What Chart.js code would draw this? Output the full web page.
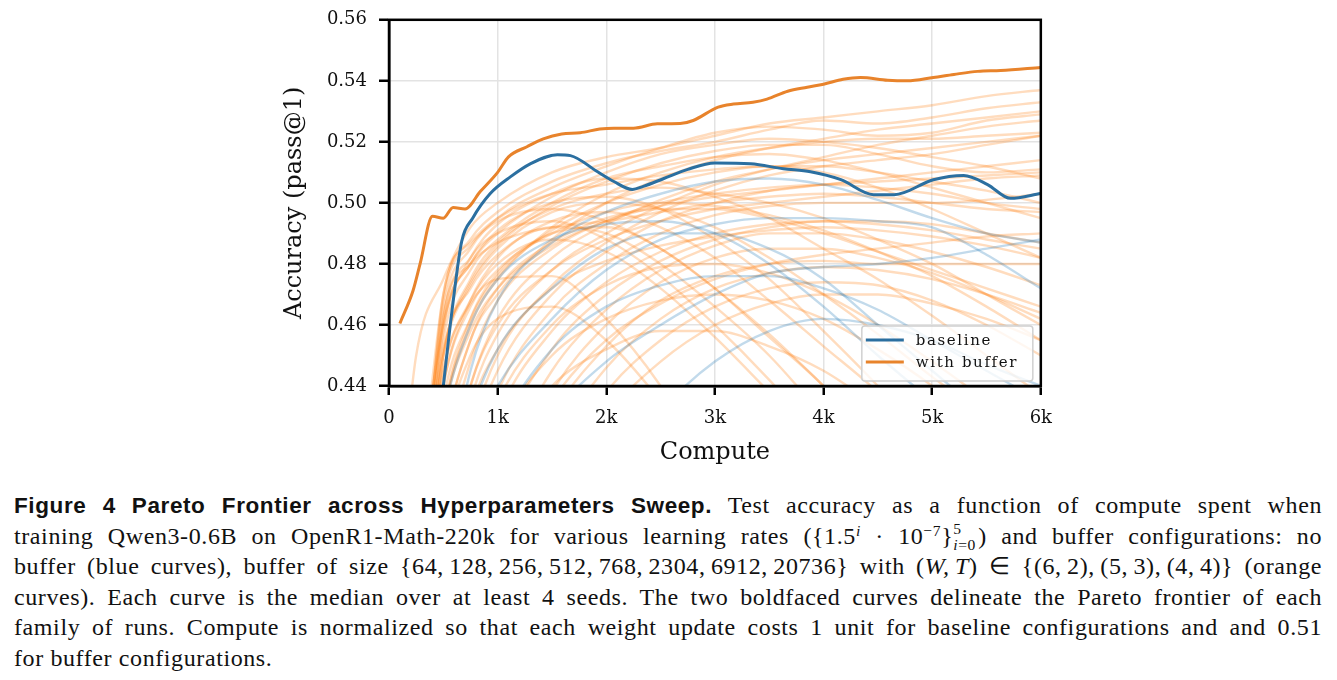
<!DOCTYPE html>
<html>
<head>
<meta charset="utf-8">
<script src="https://cdn.jsdelivr.net/npm/chart.js@4.4.1/dist/chart.umd.min.js"></script>
<style>
  body { margin: 0; background: #fff; width: 1337px; height: 680px; overflow: hidden; position: relative; }
  #wrap { position: absolute; left: 280px; top: -3px; width: 785px; height: 473px; }
  #caption { position: absolute; left: 14px; top: 490px; width: 1308px; font-family: "Liberation Serif", serif; font-size: 24px; color: #111; }
  #caption .ln { height: 30.5px; line-height: 30.5px; white-space: nowrap; }
  #caption .ln > span { letter-spacing: 0.6px; }
  #caption b { font-family: "Liberation Sans", Arial, sans-serif; font-weight: bold; font-size: 22.5px; }
  .gap { display: inline-block; width: 16px; }
  .sp { position: relative; top: -0.5em; font-size: 0.65em; line-height: 0; }
  .ss { display: inline-block; position: relative; width: 1.6em; height: 0; font-size: 0.65em; }
  .ss .u { position: absolute; left: 0; bottom: 0.45em; line-height: 1; }
  .ss .d { position: absolute; left: 0; top: -0.4em; line-height: 1; }
</style>
</head>
<body>
<div id="wrap"><canvas id="chart" width="785" height="473"></canvas></div>
<div id="caption">
  <div class="ln"><span><b>Figure 4</b><span class="gap"></span><b>Pareto Frontier across Hyperparameters Sweep.</b> Test accuracy as a function of compute spent when</span></div>
  <div class="ln"><span>training Qwen3-0.6B on OpenR1-Math-220k for various learning rates ({1.5<span class="sp"><i>i</i></span> · 10<span class="sp">−7</span>}<span class="ss"><span class="u">5</span><span class="d"><i>i</i>=0</span></span>) and buffer configurations: no</span></div>
  <div class="ln"><span>buffer (blue curves), buffer of size {64,&thinsp;128,&thinsp;256,&thinsp;512,&thinsp;768,&thinsp;2304,&thinsp;6912,&thinsp;20736} with (<i>W,&thinsp;T</i>) ∈ {(6,&thinsp;2),&thinsp;(5,&thinsp;3),&thinsp;(4,&thinsp;4)} (orange</span></div>
  <div class="ln"><span>curves). Each curve is the median over at least 4 seeds. The two boldfaced curves delineate the Pareto frontier of each</span></div>
  <div class="ln"><span>family of runs. Compute is normalized so that each weight update costs 1 unit for baseline configurations and and 0.51</span></div>
  <div class="ln"><span class="last">for buffer configurations.</span></div>
</div>
<script>
// legend names
const seriesNames = ['baseline', 'with buffer'];

// pareto frontiers (bold curves)
const frontierBufX = [100, 221, 286, 400, 500, 590, 700, 840, 1000, 1100, 1270, 1420, 1590, 1760, 1940, 2070, 2250, 2470, 2680, 2800, 3030, 3170, 3350, 3480, 3670, 3850, 4000, 4180, 4340, 4590, 4770, 5010, 5200, 5420, 5630, 6000];
const frontierBufY = [0.4605, 0.4712, 0.480, 0.4956, 0.495, 0.4985, 0.498, 0.5037, 0.510, 0.5151, 0.5184, 0.521, 0.5226, 0.523, 0.5242, 0.5245, 0.5245, 0.5259, 0.526, 0.527, 0.5314, 0.5324, 0.533, 0.534, 0.5366, 0.5379, 0.5389, 0.5405, 0.5411, 0.5402, 0.540, 0.5411, 0.5421, 0.5431, 0.5434, 0.5444];

const frontierBaseX = [500, 580, 670, 770, 930, 1120, 1300, 1550, 1670, 1920, 2070, 2240, 2340, 2530, 2750, 3000, 3330, 3630, 3880, 4160, 4460, 4650, 5010, 5290, 5510, 5720, 6000];
const frontierBaseY = [0.44, 0.4647, 0.4875, 0.495, 0.503, 0.5086, 0.5128, 0.5158, 0.5155, 0.5102, 0.507, 0.5044, 0.5054, 0.508, 0.511, 0.5131, 0.5128, 0.5112, 0.5102, 0.5076, 0.5027, 0.5027, 0.5076, 0.509, 0.506, 0.5015, 0.5031];

// all the sweep runs (faint curves), sampled on the same compute grid
const sweepX = [100, 250, 500, 750, 1000, 1500, 2000, 2500, 3000, 3500, 4000, 4500, 5000, 5500, 6000];

const bufferRuns = [
  [0.40, 0.45, 0.475, 0.492, 0.500, 0.510, 0.515, 0.518, 0.522, 0.526, 0.528, 0.530, 0.532, 0.535, 0.537],
  [0.34, 0.39, 0.470, 0.488, 0.497, 0.507, 0.513, 0.517, 0.520, 0.524, 0.527, 0.526, 0.528, 0.531, 0.533],
  [0.33, 0.38, 0.465, 0.485, 0.495, 0.505, 0.512, 0.518, 0.523, 0.525, 0.524, 0.522, 0.523, 0.527, 0.529],
  [0.33, 0.38, 0.460, 0.480, 0.490, 0.502, 0.510, 0.516, 0.519, 0.521, 0.520, 0.518, 0.515, 0.512, 0.508],
  [0.32, 0.37, 0.455, 0.478, 0.488, 0.500, 0.508, 0.512, 0.515, 0.516, 0.514, 0.510, 0.505, 0.500, 0.495],
  [0.32, 0.37, 0.450, 0.475, 0.487, 0.498, 0.503, 0.505, 0.503, 0.500, 0.495, 0.488, 0.480, 0.470, 0.460],
  [0.36, 0.40, 0.460, 0.482, 0.493, 0.503, 0.508, 0.507, 0.502, 0.495, 0.485, 0.475, 0.463, 0.450, 0.437],
  [0.34, 0.38, 0.450, 0.473, 0.485, 0.497, 0.500, 0.498, 0.492, 0.482, 0.470, 0.457, 0.443, 0.430, 0.415],
  [0.33, 0.37, 0.440, 0.468, 0.482, 0.494, 0.497, 0.492, 0.482, 0.468, 0.453, 0.438, 0.420, 0.400, 0.380],
  [0.30, 0.35, 0.430, 0.462, 0.477, 0.490, 0.492, 0.485, 0.472, 0.456, 0.440, 0.420, 0.400, 0.380, 0.360],
  [0.30, 0.34, 0.420, 0.455, 0.472, 0.487, 0.495, 0.498, 0.498, 0.495, 0.490, 0.484, 0.478, 0.472, 0.466],
  [0.28, 0.33, 0.410, 0.448, 0.468, 0.485, 0.494, 0.500, 0.503, 0.505, 0.506, 0.505, 0.503, 0.500, 0.498],
  [0.28, 0.32, 0.400, 0.440, 0.462, 0.482, 0.493, 0.501, 0.507, 0.511, 0.514, 0.516, 0.518, 0.520, 0.522],
  [0.27, 0.31, 0.390, 0.435, 0.457, 0.478, 0.490, 0.499, 0.506, 0.511, 0.515, 0.519, 0.522, 0.525, 0.527],
  [0.26, 0.30, 0.380, 0.425, 0.450, 0.473, 0.487, 0.497, 0.504, 0.509, 0.512, 0.514, 0.516, 0.519, 0.522],
  [0.25, 0.30, 0.370, 0.420, 0.445, 0.470, 0.484, 0.494, 0.500, 0.504, 0.506, 0.507, 0.508, 0.509, 0.510],
  [0.25, 0.29, 0.360, 0.410, 0.438, 0.465, 0.480, 0.490, 0.496, 0.499, 0.500, 0.500, 0.500, 0.501, 0.503],
  [0.24, 0.28, 0.350, 0.400, 0.430, 0.458, 0.474, 0.484, 0.490, 0.493, 0.494, 0.493, 0.491, 0.488, 0.485],
  [0.24, 0.28, 0.340, 0.390, 0.420, 0.452, 0.470, 0.481, 0.488, 0.492, 0.494, 0.494, 0.493, 0.490, 0.487],
  [0.23, 0.27, 0.330, 0.380, 0.410, 0.445, 0.465, 0.478, 0.486, 0.490, 0.490, 0.488, 0.484, 0.479, 0.473],
  [0.22, 0.26, 0.320, 0.370, 0.400, 0.438, 0.460, 0.474, 0.482, 0.485, 0.485, 0.482, 0.477, 0.470, 0.462],
  [0.22, 0.26, 0.310, 0.360, 0.390, 0.430, 0.453, 0.468, 0.476, 0.480, 0.481, 0.480, 0.480, 0.480, 0.480],
  [0.21, 0.25, 0.300, 0.350, 0.380, 0.420, 0.446, 0.462, 0.472, 0.477, 0.479, 0.478, 0.475, 0.470, 0.464],
  [0.20, 0.24, 0.300, 0.340, 0.370, 0.410, 0.438, 0.455, 0.466, 0.472, 0.474, 0.473, 0.468, 0.460, 0.450],
  [0.20, 0.24, 0.290, 0.330, 0.360, 0.400, 0.430, 0.448, 0.460, 0.467, 0.470, 0.470, 0.467, 0.462, 0.455],
  [0.31, 0.36, 0.458, 0.480, 0.491, 0.500, 0.502, 0.498, 0.488, 0.475, 0.458, 0.440, 0.420, 0.400, 0.380],
  [0.31, 0.36, 0.450, 0.472, 0.483, 0.492, 0.490, 0.480, 0.466, 0.450, 0.430, 0.410, 0.390, 0.370, 0.350],
  [0.33, 0.38, 0.445, 0.468, 0.480, 0.488, 0.484, 0.472, 0.456, 0.438, 0.420, 0.400, 0.380, 0.360, 0.340],
  [0.32, 0.37, 0.440, 0.466, 0.478, 0.490, 0.497, 0.500, 0.499, 0.496, 0.491, 0.484, 0.476, 0.466, 0.455],
  [0.31, 0.36, 0.435, 0.462, 0.476, 0.491, 0.500, 0.506, 0.510, 0.512, 0.512, 0.510, 0.507, 0.504, 0.500],
  [0.30, 0.35, 0.430, 0.460, 0.475, 0.492, 0.503, 0.510, 0.515, 0.518, 0.520, 0.521, 0.521, 0.522, 0.523],
  [0.29, 0.34, 0.420, 0.455, 0.470, 0.488, 0.500, 0.508, 0.514, 0.518, 0.521, 0.524, 0.526, 0.528, 0.530],
  [0.26, 0.30, 0.360, 0.400, 0.425, 0.450, 0.462, 0.468, 0.470, 0.468, 0.462, 0.452, 0.440, 0.425, 0.410],
  [0.25, 0.29, 0.350, 0.390, 0.415, 0.440, 0.452, 0.458, 0.458, 0.453, 0.445, 0.433, 0.420, 0.405, 0.390],
  [0.33, 0.38, 0.468, 0.486, 0.494, 0.498, 0.494, 0.485, 0.472, 0.457, 0.440, 0.422, 0.400, 0.380, 0.360],
  [0.32, 0.37, 0.462, 0.482, 0.490, 0.494, 0.488, 0.476, 0.460, 0.442, 0.422, 0.400, 0.380, 0.360, 0.340],
  [0.27, 0.31, 0.370, 0.410, 0.435, 0.460, 0.473, 0.479, 0.480, 0.477, 0.470, 0.460, 0.448, 0.435, 0.420],
  [0.31, 0.36, 0.430, 0.458, 0.472, 0.486, 0.494, 0.499, 0.502, 0.504, 0.506, 0.508, 0.510, 0.512, 0.514],
  [0.23, 0.27, 0.330, 0.370, 0.400, 0.435, 0.455, 0.467, 0.475, 0.480, 0.483, 0.485, 0.487, 0.489, 0.490],
  [0.29, 0.33, 0.400, 0.440, 0.460, 0.478, 0.488, 0.494, 0.498, 0.500, 0.502, 0.504, 0.506, 0.508, 0.509],
  [0.33, 0.38, 0.445, 0.467, 0.475, 0.476, 0.462, 0.440, 0.410, 0.380, 0.350, 0.330, 0.310, 0.290, 0.270],
  [0.30, 0.35, 0.420, 0.450, 0.462, 0.466, 0.455, 0.435, 0.410, 0.380, 0.350, 0.330, 0.310, 0.290, 0.270],
  [0.32, 0.37, 0.470, 0.487, 0.495, 0.503, 0.506, 0.509, 0.511, 0.512, 0.510, 0.505, 0.498, 0.490, 0.482],
  [0.34, 0.39, 0.452, 0.474, 0.486, 0.499, 0.507, 0.513, 0.517, 0.519, 0.519, 0.516, 0.512, 0.510, 0.511],
  [0.32, 0.37, 0.463, 0.480, 0.487, 0.492, 0.494, 0.497, 0.500, 0.502, 0.503, 0.502, 0.500, 0.498, 0.497],
  [0.27, 0.32, 0.390, 0.432, 0.452, 0.472, 0.481, 0.486, 0.489, 0.491, 0.492, 0.491, 0.489, 0.486, 0.482]
];

const baselineRuns = [
  [0.30, 0.34, 0.400, 0.445, 0.468, 0.487, 0.497, 0.503, 0.507, 0.508, 0.506, 0.501, 0.495, 0.490, 0.487],
  [0.28, 0.32, 0.380, 0.420, 0.440, 0.462, 0.478, 0.488, 0.493, 0.495, 0.495, 0.494, 0.492, 0.483, 0.472],
  [0.25, 0.28, 0.330, 0.370, 0.400, 0.430, 0.448, 0.460, 0.470, 0.477, 0.479, 0.480, 0.482, 0.485, 0.488],
  [0.26, 0.30, 0.360, 0.400, 0.425, 0.452, 0.466, 0.473, 0.476, 0.476, 0.472, 0.465, 0.455, 0.445, 0.435],
  [0.32, 0.37, 0.430, 0.460, 0.475, 0.488, 0.493, 0.494, 0.490, 0.480, 0.466, 0.450, 0.435, 0.420, 0.405],
  [0.20, 0.23, 0.270, 0.310, 0.340, 0.380, 0.410, 0.432, 0.448, 0.458, 0.462, 0.460, 0.455, 0.447, 0.440],
  [0.29, 0.33, 0.390, 0.430, 0.452, 0.472, 0.485, 0.490, 0.490, 0.485, 0.475, 0.460, 0.445, 0.430, 0.415]
];

const yTicks = [0.44, 0.46, 0.48, 0.50, 0.52, 0.54, 0.56];
const xTicks = [0, 1000, 2000, 3000, 4000, 5000, 6000];

const BLUE = '#2b6fa0';
const ORANGE = '#e8832b';
const SERIF = '"DejaVu Serif", serif';

function pts(xs, ys) {
  return xs.map((x, i) => ({ x: x, y: ys[i] }));
}

const datasets = [];
datasets.push({ data: pts(frontierBufX, frontierBufY), borderColor: ORANGE, borderWidth: 3, pointRadius: 0, cubicInterpolationMode: 'monotone' });
datasets.push({ data: pts(frontierBaseX, frontierBaseY), borderColor: BLUE, borderWidth: 3, pointRadius: 0, cubicInterpolationMode: 'monotone' });
baselineRuns.forEach(r => {
  datasets.push({ data: pts(sweepX, r), borderColor: 'rgba(31,119,180,0.27)', borderWidth: 2.4, pointRadius: 0, cubicInterpolationMode: 'monotone' });
});
bufferRuns.forEach(r => {
  datasets.push({ data: pts(sweepX, r), borderColor: 'rgba(255,127,14,0.27)', borderWidth: 2.4, pointRadius: 0, cubicInterpolationMode: 'monotone' });
});

// top + right spines
const frame = {
  id: 'frame',
  afterDatasetsDraw(chart) {
    const ctx = chart.ctx, a = chart.chartArea;
    ctx.save();
    ctx.strokeStyle = '#000';
    ctx.lineWidth = 2.5;
    ctx.strokeRect(a.left, a.top, a.right - a.left, a.bottom - a.top);
    ctx.restore();
  }
};

// matplotlib style legend, inside the lower right corner
const legendBox = {
  id: 'legendBox',
  afterDraw(chart) {
    const ctx = chart.ctx, a = chart.chartArea;
    const w = 171, h = 55;
    const x0 = a.right - w - 8, y0 = a.bottom - h - 5;
    ctx.save();
    ctx.fillStyle = 'rgba(255,255,255,0.8)';
    ctx.strokeStyle = '#d0d0d0';
    ctx.lineWidth = 1.5;
    ctx.beginPath();
    ctx.roundRect(x0, y0, w, h, 3);
    ctx.fill();
    ctx.stroke();
    const cols = [BLUE, ORANGE];
    ctx.font = '15px ' + SERIF;
    ctx.letterSpacing = '1.6px';
    ctx.textBaseline = 'middle';
    seriesNames.forEach((name, i) => {
      const y = y0 + 14 + i * 22;
      ctx.strokeStyle = cols[i];
      ctx.lineWidth = 3;
      ctx.beginPath();
      ctx.moveTo(x0 + 4, y);
      ctx.lineTo(x0 + 42, y);
      ctx.stroke();
      ctx.fillStyle = '#111';
      ctx.fillText(name, x0 + 54, y + 1);
    });
    ctx.restore();
  }
};

new Chart(document.getElementById('chart'), {
  type: 'line',
  data: { datasets: datasets },
  options: {
    responsive: false,
    animation: false,
    layout: { padding: 0 },
    plugins: { legend: { display: false }, tooltip: { enabled: false } },
    scales: {
      x: {
        type: 'linear', min: 0, max: 6000,
        afterFit(s) { s.height = 84; },
        afterBuildTicks(s) { s.ticks = xTicks.map(v => ({ value: v })); },
        ticks: { color: '#111', font: { family: SERIF, size: 18 }, padding: 13,
          callback: v => v === 0 ? '0' : (v / 1000) + 'k' },
        grid: { color: '#e3e3e3', lineWidth: 1.5, tickColor: '#000', tickWidth: 2.5, tickLength: 9 },
        border: { color: '#000', width: 2.5 },
        title: { display: true, text: 'Compute', color: '#111', font: { family: SERIF, size: 24 }, padding: { top: 0, bottom: 3 } }
      },
      y: {
        min: 0.44, max: 0.56,
        afterFit(s) { s.width = 109; },
        afterBuildTicks(s) { s.ticks = yTicks.map(v => ({ value: v })); },
        ticks: { color: '#111', font: { family: SERIF, size: 18 }, padding: 12,
          callback: v => v.toFixed(2) },
        grid: { color: '#e3e3e3', lineWidth: 1.5, tickColor: '#000', tickWidth: 2.5, tickLength: 10 },
        border: { color: '#000', width: 2.5 },
        title: { display: true, text: 'Accuracy (pass@1)', color: '#111', font: { family: SERIF, size: 24 }, padding: 0 }
      }
    }
  },
  plugins: [frame, legendBox]
});

// spread each caption line over the full width, like the justified paragraph
document.querySelectorAll('#caption .ln > span').forEach(s => {
  if (s.classList.contains('last')) return;
  const w = s.getBoundingClientRect().width;
  const gaps = (s.textContent.match(/[ \u00a0]/g) || []).length;
  const extra = 1308 - w;
  if (extra >= 0) {
    s.style.wordSpacing = (extra / gaps) + 'px';
  } else {
    s.style.letterSpacing = (0.6 + extra / s.textContent.length) + 'px';
  }
});
</script>
</body>
</html>
